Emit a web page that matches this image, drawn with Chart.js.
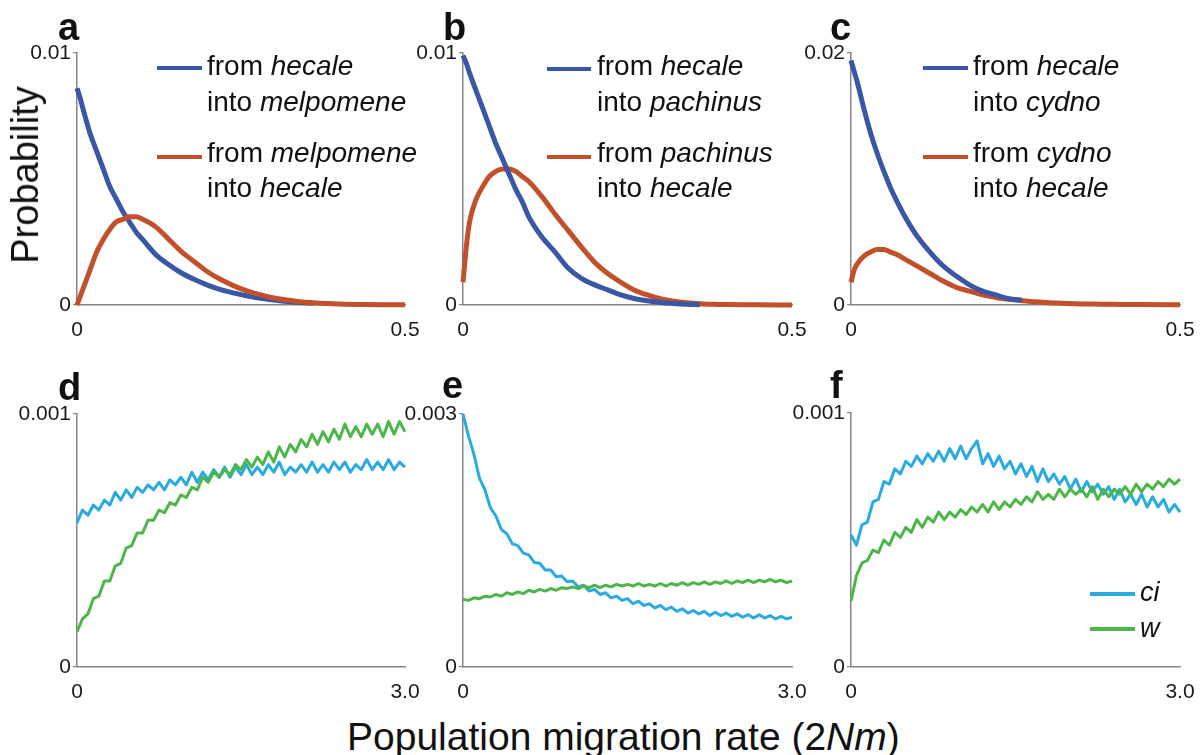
<!DOCTYPE html>
<html><head><meta charset="utf-8">
<script src="https://cdn.jsdelivr.net/npm/chart.js@4.4.1/dist/chart.umd.min.js"></script>
<style>
html,body{margin:0;padding:0;background:#fff;overflow:hidden;}
body{width:1201px;height:755px;position:relative;font-family:"Liberation Sans",Arial,sans-serif;color:#111;}
canvas{position:absolute;}
.t{position:absolute;white-space:nowrap;line-height:1;z-index:5;}
.leg{font-size:28px;}
.let{font-size:38px;font-weight:bold;}
.sw{position:absolute;height:4px;z-index:5;}
</style></head><body>

<div class="t let" style="left:58px;top:8px">a</div>
<div class="t let" style="left:443px;top:8px">b</div>
<div class="t let" style="left:830px;top:8px">c</div>
<div class="t let" style="left:58px;top:368px">d</div>
<div class="t let" style="left:442px;top:366px">e</div>
<div class="t let" style="left:830px;top:366px">f</div>

<div class="t" style="font-size:38px;left:24.5px;top:175px;transform:translate(-50%,-50%) rotate(-90deg)">Probability</div>
<div class="t" style="font-size:39px;left:347px;top:717px">Population migration rate (2<i>Nm</i>)</div>

<div class="sw" style="left:157px;top:66px;width:45px;background:#3a56a6"></div>
<div class="t leg" style="left:207px;top:52px">from <i>hecale</i></div>
<div class="t leg" style="left:207px;top:88px">into <i>melpomene</i></div>
<div class="sw" style="left:157px;top:155px;width:45px;background:#c1502b"></div>
<div class="t leg" style="left:207px;top:139px">from <i>melpomene</i></div>
<div class="t leg" style="left:207px;top:174px">into <i>hecale</i></div>

<div class="sw" style="left:547px;top:67px;width:44px;background:#3a56a6"></div>
<div class="t leg" style="left:597px;top:52px">from <i>hecale</i></div>
<div class="t leg" style="left:597px;top:88px">into <i>pachinus</i></div>
<div class="sw" style="left:547px;top:155px;width:44px;background:#c1502b"></div>
<div class="t leg" style="left:597px;top:139px">from <i>pachinus</i></div>
<div class="t leg" style="left:597px;top:174px">into <i>hecale</i></div>

<div class="sw" style="left:923px;top:66px;width:45px;background:#3a56a6"></div>
<div class="t leg" style="left:973px;top:52px">from <i>hecale</i></div>
<div class="t leg" style="left:973px;top:88px">into <i>cydno</i></div>
<div class="sw" style="left:923px;top:155px;width:45px;background:#c1502b"></div>
<div class="t leg" style="left:973px;top:139px">from <i>cydno</i></div>
<div class="t leg" style="left:973px;top:174px">into <i>hecale</i></div>

<div class="sw" style="left:1090px;top:592px;width:45px;background:#29aae1"></div>
<div class="t" style="font-size:27px;left:1140px;top:579px"><i>ci</i></div>
<div class="sw" style="left:1090px;top:627px;width:45px;background:#4cb748"></div>
<div class="t" style="font-size:27px;left:1140px;top:615px"><i>w</i></div>

<script>
// ---- data ----
const xTop = [0,0.005,0.01,0.02,0.03,0.04,0.05,0.06,0.07,0.08,0.09,0.10,0.12,0.14,0.16,0.18,0.20,0.22,0.24,0.26,0.28,0.30,0.32,0.34,0.36,0.38,0.40,0.44,0.48,0.50];
const xBottom = [0,0.05,0.10,0.15,0.20,0.25,0.30,0.35,0.40,0.45,0.50,0.55,0.60,0.65,0.70,0.75,0.80,0.85,0.90,0.95,1.00,1.05,1.10,1.15,1.20,1.25,1.30,1.35,1.40,1.45,1.50,1.55,1.60,1.65,1.70,1.75,1.80,1.85,1.90,1.95,2.00,2.05,2.10,2.15,2.20,2.25,2.30,2.35,2.40,2.45,2.50,2.55,2.60,2.65,2.70,2.75,2.80,2.85,2.90,2.95,3.00];

const xTicksTop = ['0','0.5'];
const xTicksBottom = ['0','3.0'];
const yTicksA = ['0','0.01'];
const yTicksB = ['0','0.01'];
const yTicksC = ['0','0.02'];
const yTicksD = ['0','0.001'];
const yTicksE = ['0','0.003'];
const yTicksF = ['0','0.001'];

const aBlue = [0.0086,0.0082,0.0077,0.0068,0.0061,0.0054,0.0047,0.0042,0.0037,0.0033,0.0029,0.0026,0.002,0.0016,0.00126,0.001,0.00078,0.0006,0.00047,0.00036,0.00027,0.0002,0.00014,0.0001,0.00007];
const aOrange = [0,0.00035,0.0007,0.0014,0.0021,0.0026,0.003,0.0033,0.0034,0.0035,0.0035,0.0034,0.0031,0.0026,0.0021,0.0017,0.0013,0.001,0.00075,0.00055,0.0004,0.00028,0.0002,0.00013,0.00009,0.00006,0.00004,0.00002,0.00001,0.00001];

const bBlue = [0.0099,0.0096,0.0092,0.0085,0.0078,0.0071,0.0064,0.0058,0.0052,0.0046,0.0041,0.0035,0.0027,0.0021,0.00146,0.00106,0.0008,0.0006,0.0004,0.00026,0.00017,0.0001,0.00006,0.00003,0.00001];
const bOrange = [0.0009,0.0023,0.0033,0.0042,0.0047,0.0051,0.0053,0.0054,0.0054,0.0053,0.0051,0.0049,0.0043,0.0036,0.00295,0.0023,0.0017,0.00125,0.0009,0.0006,0.0004,0.00025,0.00015,0.00009,0.00005,0.00003,0.00002,0.00001,0,0];

const cBlue = [0.0194,0.0185,0.0176,0.0155,0.0136,0.012,0.0106,0.0093,0.0082,0.0072,0.0063,0.0055,0.0042,0.0031,0.0023,0.0016,0.0011,0.0008,0.0005,0.0004];
const cOrange = [0.0018,0.0028,0.0033,0.0039,0.0042,0.0044,0.0044,0.0042,0.004,0.0037,0.0034,0.0031,0.0025,0.0019,0.0014,0.0011,0.0008,0.0006,0.00045,0.00033,0.00025,0.00018,0.00013,0.0001,0.00008,0.00006,0.00005,0.00003,0.00002,0.00002];

const dCi = [0.00057,0.00062,0.00060,0.00064,0.00062,0.00066,0.00064,0.00069,0.00066,0.00070,0.00067,0.00071,0.00069,0.00072,0.00070,0.00073,0.00070,0.00074,0.00072,0.00075,0.00072,0.00077,0.00073,0.00077,0.00074,0.00078,0.00075,0.00079,0.00075,0.00079,0.00076,0.00080,0.00076,0.00079,0.00076,0.00080,0.00077,0.00081,0.00076,0.00079,0.00077,0.00080,0.00077,0.00081,0.00077,0.00080,0.00077,0.00081,0.00078,0.00081,0.00077,0.00080,0.00078,0.00082,0.00078,0.00081,0.00078,0.00082,0.00078,0.00081,0.00079];
const dW = [0.00014,0.00019,0.00021,0.00027,0.00028,0.00034,0.00034,0.00040,0.00041,0.00047,0.00048,0.00053,0.00053,0.00058,0.00058,0.00062,0.00061,0.00065,0.00064,0.00068,0.00067,0.00071,0.00070,0.00075,0.00073,0.00077,0.00075,0.00078,0.00076,0.00080,0.00078,0.00082,0.00079,0.00083,0.00080,0.00085,0.00081,0.00087,0.00083,0.00088,0.00085,0.00090,0.00087,0.00092,0.00088,0.00093,0.00089,0.00094,0.00090,0.00096,0.00091,0.00095,0.00091,0.00096,0.00092,0.00096,0.00091,0.00097,0.00092,0.00097,0.00093];

const eCi = [0.00300,0.00274,0.00252,0.00224,0.00210,0.00189,0.00179,0.00163,0.00158,0.00146,0.00144,0.00135,0.00133,0.00124,0.00123,0.00115,0.00115,0.00107,0.00108,0.00101,0.00102,0.00095,0.00097,0.00090,0.00092,0.00086,0.00088,0.00082,0.00084,0.00079,0.00081,0.00075,0.00078,0.00073,0.00075,0.00070,0.00073,0.00068,0.00071,0.00066,0.00069,0.00064,0.00067,0.00063,0.00066,0.00061,0.00065,0.00061,0.00064,0.00060,0.00063,0.00059,0.00062,0.00058,0.00062,0.00058,0.00061,0.00057,0.00060,0.00057,0.00059];
const eW = [0.00080,0.00079,0.00082,0.00081,0.00084,0.00083,0.00086,0.00084,0.00088,0.00086,0.00089,0.00087,0.00091,0.00089,0.00092,0.00090,0.00093,0.00091,0.00094,0.00093,0.00095,0.00093,0.00096,0.00094,0.00097,0.00094,0.00097,0.00095,0.00098,0.00096,0.00098,0.00096,0.00099,0.00096,0.00098,0.00096,0.00099,0.00096,0.00099,0.00097,0.00100,0.00097,0.00100,0.00098,0.00101,0.00098,0.00101,0.00099,0.00102,0.00099,0.00102,0.00100,0.00103,0.00100,0.00103,0.00101,0.00104,0.00101,0.00103,0.00100,0.00102];

const fCi = [0.00052,0.00048,0.00056,0.00057,0.00065,0.00066,0.00073,0.00072,0.00078,0.00076,0.00081,0.00079,0.00083,0.00080,0.00084,0.00081,0.00085,0.00081,0.00086,0.00082,0.00087,0.00082,0.00086,0.00089,0.00080,0.00084,0.00079,0.00083,0.00078,0.00081,0.00076,0.00080,0.00075,0.00079,0.00073,0.00078,0.00073,0.00076,0.00072,0.00075,0.00070,0.00074,0.00069,0.00073,0.00069,0.00072,0.00068,0.00071,0.00066,0.00070,0.00065,0.00068,0.00064,0.00068,0.00063,0.00067,0.00063,0.00066,0.00061,0.00064,0.00061];
const fW = [0.00026,0.00036,0.00041,0.00042,0.00046,0.00045,0.00050,0.00048,0.00053,0.00051,0.00055,0.00053,0.00058,0.00055,0.00059,0.00057,0.00061,0.00058,0.00061,0.00059,0.00062,0.00060,0.00063,0.00061,0.00064,0.00061,0.00065,0.00062,0.00065,0.00063,0.00066,0.00064,0.00067,0.00065,0.00069,0.00066,0.00068,0.00066,0.00070,0.00067,0.00070,0.00068,0.00070,0.00067,0.00071,0.00066,0.00070,0.00067,0.00070,0.00068,0.00071,0.00068,0.00072,0.00069,0.00072,0.00070,0.00073,0.00071,0.00074,0.00072,0.00074];

// ---- styling ----
const BLUE = '#3a56a6', ORANGE = '#c1502b', CYAN = '#29aae1', GREEN = '#4cb748';
const AXIS = '#858585';
const FONT = "'Liberation Sans', Arial, sans-serif";
const Y_W = 70, X_H = 35, PAD_T = 15, PAD_R = 22;

const panels = [
  {left:77, top:53, w:328, h:252, xs:xTop, xMax:0.5, yMax:0.01, xl:xTicksTop, yl:yTicksA, lw:5, smooth:true,
   series:[{y:aBlue,c:BLUE,order:1},{y:aOrange,c:ORANGE,order:0}]},
  {left:463, top:53, w:329, h:252, xs:xTop, xMax:0.5, yMax:0.01, xl:xTicksTop, yl:yTicksB, lw:5, smooth:true,
   series:[{y:bBlue,c:BLUE,order:0},{y:bOrange,c:ORANGE,order:1}]},
  {left:851, top:53, w:329, h:252, xs:xTop, xMax:0.5, yMax:0.02, xl:xTicksTop, yl:yTicksC, lw:5, smooth:true,
   series:[{y:cBlue,c:BLUE,order:0},{y:cOrange,c:ORANGE,order:1}]},
  {left:77, top:414, w:328, h:253, xs:xBottom, xMax:3.0, yMax:0.001, xl:xTicksBottom, yl:yTicksD, lw:3, smooth:false,
   series:[{y:dCi,c:CYAN,order:1},{y:dW,c:GREEN,order:0}]},
  {left:463, top:414, w:329, h:253, xs:xBottom, xMax:3.0, yMax:0.003, xl:xTicksBottom, yl:yTicksE, lw:3, smooth:false,
   series:[{y:eCi,c:CYAN,order:1},{y:eW,c:GREEN,order:0}]},
  {left:851, top:413, w:329, h:254, xs:xBottom, xMax:3.0, yMax:0.001, xl:xTicksBottom, yl:yTicksF, lw:3, smooth:false,
   series:[{y:fCi,c:CYAN,order:1},{y:fW,c:GREEN,order:0}]}
];

panels.forEach(p => {
  const cv = document.createElement('canvas');
  const W = Y_W + p.w + PAD_R, H = PAD_T + p.h + X_H;
  cv.width = W; cv.height = H;
  cv.style.left = (p.left - Y_W) + 'px';
  cv.style.top = (p.top - PAD_T) + 'px';
  cv.style.width = W + 'px'; cv.style.height = H + 'px';
  document.body.appendChild(cv);
  const datasets = p.series.map(s => ({
    data: s.y.map((v, i) => ({x: p.xs[i], y: v})),
    borderColor: s.c, backgroundColor: s.c, borderWidth: p.lw,
    pointRadius: 0, fill: false, clip: 8, order: s.order,
    tension: p.smooth ? 0.4 : 0,
    cubicInterpolationMode: p.smooth ? 'monotone' : 'default',
    borderCapStyle: 'butt', borderJoinStyle: 'round'
  }));
  new Chart(cv, {
    type: 'line',
    data: {datasets},
    options: {
      responsive: false, animation: false, devicePixelRatio: 1,
      layout: {padding: {top: PAD_T, right: PAD_R, left: 0, bottom: 0}},
      plugins: {legend: {display: false}, tooltip: {enabled: false}},
      scales: {
        x: {
          type: 'linear', min: 0, max: p.xMax,
          afterBuildTicks: sc => { sc.ticks = [{value: sc.min}, {value: sc.max}]; },
          afterFit: sc => { sc.height = X_H; },
          grid: {display: false},
          border: {display: true, color: AXIS, width: 1.5},
          ticks: {autoSkip: false, maxRotation: 0, padding: 5, color: '#1a1a1a',
                  font: {family: FONT, size: 21},
                  callback: (v, i) => p.xl[i]}
        },
        y: {
          type: 'linear', min: 0, max: p.yMax,
          afterBuildTicks: sc => { sc.ticks = [{value: sc.min}, {value: sc.max}]; },
          afterFit: sc => { sc.width = Y_W; },
          grid: {display: true, drawOnChartArea: false, drawTicks: true, tickLength: 4, color: AXIS, lineWidth: 1.2},
          border: {display: true, color: AXIS, width: 1.5},
          ticks: {autoSkip: false, padding: 2, color: '#1a1a1a',
                  font: {family: FONT, size: 21},
                  callback: (v, i) => p.yl[i]}
        }
      }
    }
  });
});
</script>
</body></html>
